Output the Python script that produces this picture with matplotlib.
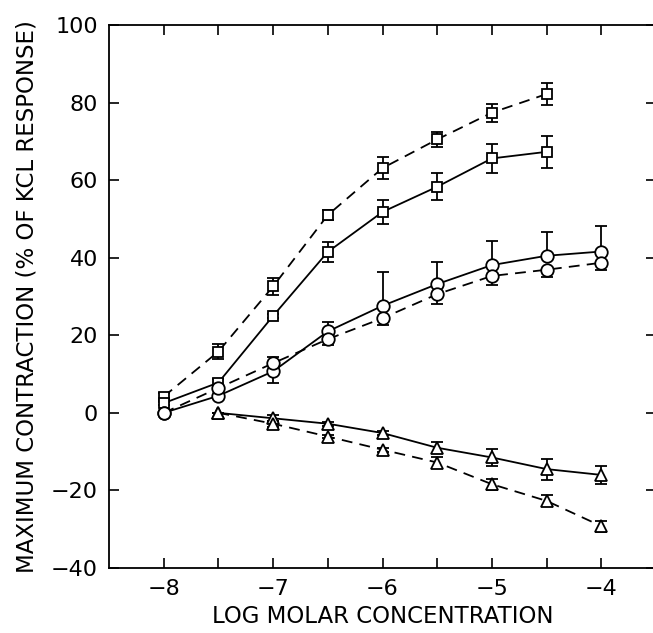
import matplotlib
matplotlib.use("Agg")
import matplotlib.pyplot as plt
import numpy as np

# log molar concentrations
conc = [-8, -7.5, -7, -6.5, -6, -5.5, -5, -4.5, -4]

# squares
sq_dash = [4.2, 15.8, 32.6, 51.0, 63.1, 70.5, 77.4, 82.2]
sq_dash_err = [1.0, 1.9, 2.1, 1.3, 2.8, 2.0, 2.3, 2.9]
sq_solid = [2.5, 7.8, 25.0, 41.5, 51.8, 58.3, 65.6, 67.3]
sq_solid_err = [0.5, 1.0, 0.5, 2.6, 3.2, 3.5, 3.8, 4.2]

# circles (solid: bars mostly upward, dashed: bars mostly downward)
ci_solid = [0.0, 4.4, 10.7, 21.0, 27.6, 33.2, 38.1, 40.5, 41.6]
ci_solid_lo = [0, 0, 3.1, 0, 0, 0, 0, 0, 0]
ci_solid_hi = [0, 0, 0, 2.5, 8.8, 5.8, 6.3, 6.1, 6.7]
ci_dash = [0.0, 6.4, 12.8, 19.0, 24.4, 30.6, 35.3, 36.9, 38.7]
ci_dash_lo = [0, 0, 0, 1.5, 1.7, 2.6, 2.3, 2.0, 1.8]
ci_dash_hi = [0, 0, 1.7, 0, 0, 0, 0, 0, 0]

# triangles
tr_solid = [0.0, -1.4, -2.8, -5.2, -9.0, -11.5, -14.5, -16.0]
tr_solid_err = [0.0, 0.8, 0.5, 0.5, 1.4, 2.1, 2.7, 2.4]
tr_dash = [0.0, -2.8, -6.1, -9.5, -12.8, -18.4, -22.7, -29.2]
tr_dash_err = [0.0, 0.8, 0.5, 0.5, 1.3, 1.4, 1.4, 1.4]

xticks = np.arange(-8, -3.9, 0.5)
yticks = [-40, -20, 0, 20, 40, 60, 80, 100]

fig = plt.figure(figsize=(6.53, 6.33), dpi=100)
ax = fig.add_axes([109/653, 65/633, 547/653, 543/633])

lw = 1.3
dash = (0, (6, 4))
common = dict(color='k', lw=lw, elinewidth=lw, capsize=4.5, capthick=lw,
              mfc='white', mec='k', mew=lw)

ax.errorbar(conc[:8], sq_dash, yerr=sq_dash_err, marker='s', ms=7.5, ls=dash, **common)
ax.errorbar(conc[:8], sq_solid, yerr=sq_solid_err, marker='s', ms=7.5, ls='-', **common)
ax.errorbar(conc, ci_solid, yerr=[ci_solid_lo, ci_solid_hi], marker='o', ms=9, ls='-', **common)
ax.errorbar(conc, ci_dash, yerr=[ci_dash_lo, ci_dash_hi], marker='o', ms=9, ls=dash, **common)
ax.errorbar(conc[1:], tr_solid, yerr=tr_solid_err, marker='^', ms=8, ls='-', **common)
ax.errorbar(conc[1:], tr_dash, yerr=tr_dash_err, marker='^', ms=8, ls=dash, **common)

ax.set_xlim(-8.5, -3.5)
ax.set_ylim(-40, 100)
ax.set_xticks(xticks)
ax.set_xticklabels([('\u2212' + str(int(-t))) if t == int(t) else '' for t in xticks])
ax.set_yticks(yticks)
ax.set_yticklabels([('\u2212' + str(-t)) if t < 0 else str(t) for t in yticks])
ax.tick_params(direction='in', length=7, width=1.2, top=True, right=True,
               labelsize=16, pad=8)
for s in ax.spines.values():
    s.set_linewidth(1.3)

ax.set_xlabel('LOG MOLAR CONCENTRATION', fontsize=16.5, labelpad=4)
ax.set_ylabel('MAXIMUM CONTRACTION (% OF KCL RESPONSE)', fontsize=16.5, labelpad=9)

fig.savefig('out.png', dpi=100)
